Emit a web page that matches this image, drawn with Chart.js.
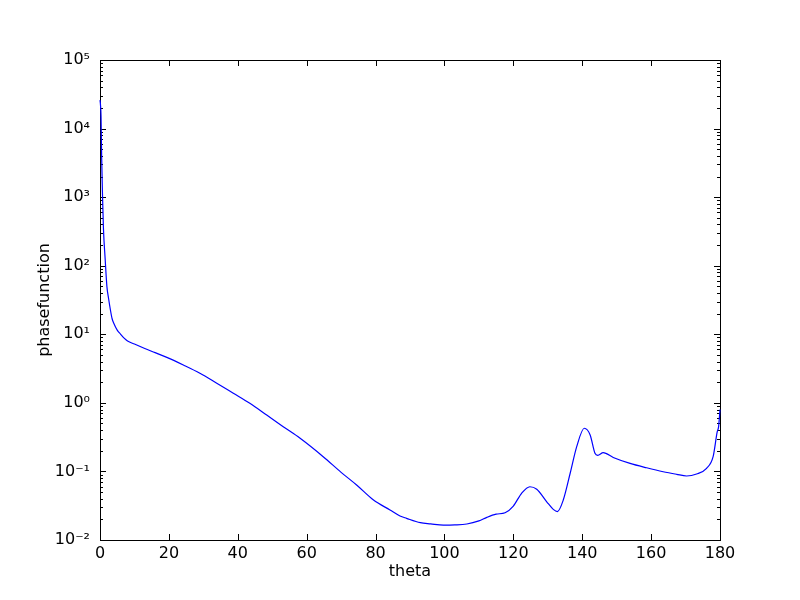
<!DOCTYPE html>
<html>
<head>
<meta charset="utf-8">
<script src="https://cdn.jsdelivr.net/npm/chart.js@4/dist/chart.umd.min.js"></script>
<style>
  html, body { margin: 0; padding: 0; background: #fff; }
  #wrap { width: 800px; height: 600px; }
</style>
</head>
<body>
<div id="wrap"><canvas id="c" width="800" height="600"></canvas></div>
<script>
// ---- data ----
const theta = [0, 0.15, 0.3, 0.4, 0.5, 0.7, 1.0, 1.5, 2.0, 2.5, 3.0, 3.5, 4.0, 5.0, 6.0, 7.0, 8.0, 10, 13, 16,
  19.4, 24.2, 29, 33.9, 38.7, 43.5, 48.4, 53.2, 58.1, 64.8, 70, 74.5, 79.4, 84.2, 87.1, 89, 93, 96,
  99.7, 103, 106.5, 110, 112.3, 115, 117.6, 120, 122.4, 124.8, 126.8, 129.7, 131.6, 132.8, 134.5,
  136.5, 138.4, 140.6, 142.3, 143.7, 144.5, 146.1, 149, 153.9, 158.7, 163.5, 167.4, 170.3, 173.2,
  176.1, 178, 179.2, 179.6, 180];
const phase = [26000, 22000, 15000, 7000, 3500, 1200, 350, 125, 50, 33, 23, 17, 14.5, 11.5, 10, 8.8, 8.0, 7.2, 6.2, 5.4,
  4.6, 3.56, 2.7, 1.93, 1.38, 0.986, 0.665, 0.449, 0.304, 0.164, 0.097, 0.0634, 0.0383, 0.0274, 0.0224, 0.0207, 0.0179, 0.0172,
  0.0165, 0.0166, 0.0171, 0.019, 0.0214, 0.0238, 0.025, 0.0313, 0.048, 0.0598, 0.055, 0.0361, 0.028, 0.026, 0.0383,
  0.094, 0.23, 0.426, 0.34, 0.184, 0.172, 0.188, 0.16, 0.131, 0.113, 0.099, 0.0908, 0.0858, 0.0917,
  0.111, 0.164, 0.38, 0.45, 0.8];
const xTicks = [0, 20, 40, 60, 80, 100, 120, 140, 160, 180];
const yExponents = [-2, -1, 0, 1, 2, 3, 4, 5];
const xLabel = 'theta';
const yLabel = 'phasefunction';

const SUP = {'-': '\u207B', '0': '\u2070', '1': '\u00B9', '2': '\u00B2', '3': '\u00B3', '4': '\u2074',
  '5': '\u2075', '6': '\u2076', '7': '\u2077', '8': '\u2078', '9': '\u2079'};
const supStr = n => String(n).split('').map(ch => SUP[ch]).join('');

const points = theta.map((t, i) => ({x: t, y: phase[i]}));
const FONT = {family: '"DejaVu Sans", sans-serif', size: 16};

const frameTicks = {
  id: 'frameTicks',
  beforeDatasetsDraw(chart) {
    const {ctx, chartArea: a, scales: {x, y}} = chart;
    ctx.save();
    ctx.strokeStyle = '#000';
    ctx.lineWidth = 1;
    ctx.beginPath();
    xTicks.forEach(v => {
      const px = Math.round(x.getPixelForValue(v)) + 0.5;
      ctx.moveTo(px, a.bottom); ctx.lineTo(px, a.bottom - 6);
      ctx.moveTo(px, a.top); ctx.lineTo(px, a.top + 6);
    });
    yExponents.forEach(e => {
      const py = Math.round(y.getPixelForValue(Math.pow(10, e))) + 0.5;
      ctx.moveTo(a.left, py); ctx.lineTo(a.left + 6, py);
      ctx.moveTo(a.right, py); ctx.lineTo(a.right - 6, py);
      if (e < yExponents[yExponents.length - 1]) {
        for (let m = 2; m <= 9; m++) {
          const pm = Math.round(y.getPixelForValue(m * Math.pow(10, e))) + 0.5;
          ctx.moveTo(a.left, pm); ctx.lineTo(a.left + 3, pm);
          ctx.moveTo(a.right, pm); ctx.lineTo(a.right - 3, pm);
        }
      }
    });
    ctx.stroke();
    ctx.strokeRect(Math.round(a.left) + 0.5, Math.round(a.top) + 0.5,
      Math.round(a.right - a.left), Math.round(a.bottom - a.top));
    ctx.restore();
  }
};

new Chart(document.getElementById('c'), {
  type: 'line',
  data: {
    datasets: [{
      data: points,
      borderColor: '#0000ff',
      borderWidth: 1.2,
      pointRadius: 0,
      fill: false,
      clip: {left: 2, top: 0, right: 2, bottom: 0},
      cubicInterpolationMode: 'monotone'
    }]
  },
  options: {
    responsive: false,
    animation: false,
    devicePixelRatio: 1,
    layout: {padding: {top: 60, right: 80, left: 0, bottom: 0}},
    plugins: {legend: {display: false}, tooltip: {enabled: false}},
    scales: {
      x: {
        type: 'linear', min: 0, max: 180,
        afterFit: s => { s.height = 60; },
        afterBuildTicks: s => { s.ticks = xTicks.map(v => ({value: v})); },
        grid: {display: false, drawTicks: false},
        border: {display: false},
        ticks: {color: '#000', font: FONT, padding: 4, maxRotation: 0, autoSkip: false,
          callback: v => String(v)},
        title: {display: true, text: xLabel, color: '#000', font: FONT, padding: {top: 0, bottom: 19}}
      },
      y: {
        type: 'logarithmic', min: 0.01, max: 100000,
        afterFit: s => { s.width = 100; },
        afterBuildTicks: s => { s.ticks = yExponents.map(e => ({value: Math.pow(10, e)})); },
        grid: {display: false, drawTicks: false},
        border: {display: false},
        ticks: {color: '#000', font: FONT, padding: 10, autoSkip: false,
          callback: v => '10' + supStr(Math.round(Math.log10(v)))},
        title: {display: true, text: yLabel, color: '#000', font: FONT, padding: {top: 35, bottom: 0}}
      }
    }
  },
  plugins: [frameTicks]
});
</script>
</body>
</html>
